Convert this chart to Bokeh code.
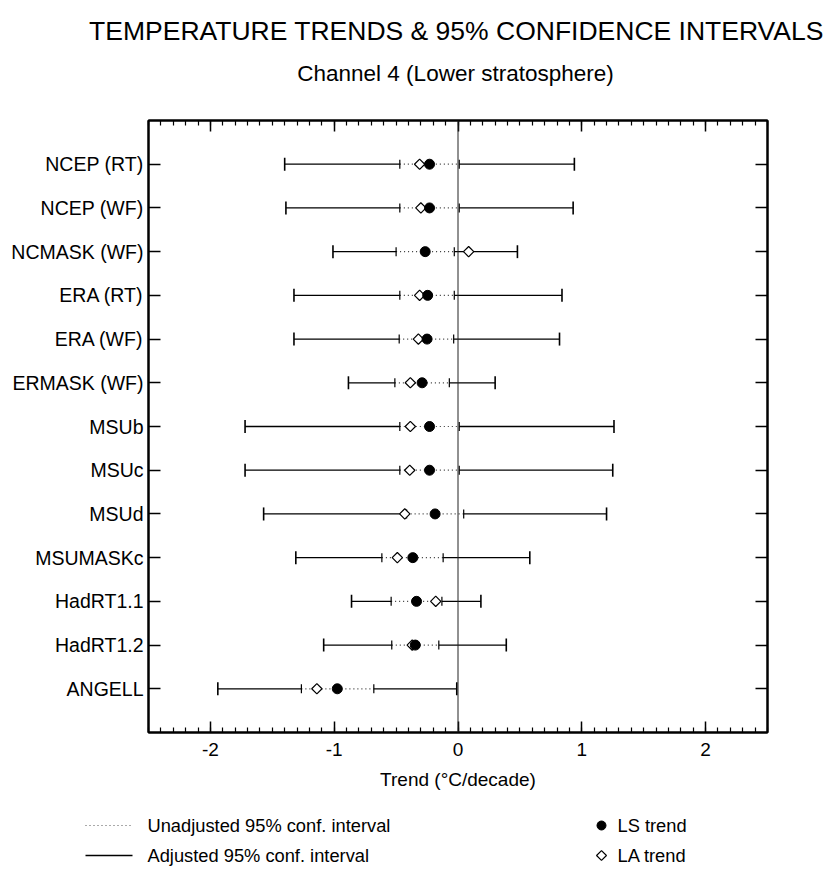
import numpy as np
from bokeh.plotting import figure
from bokeh.models import Range1d, FixedTicker, LinearAxis, Span
from bokeh.layouts import column
from bokeh.core.properties import value
from bokeh.embed import file_html
from bokeh.resources import INLINE

# ---------------- data ----------------
names = ["NCEP (RT)", "NCEP (WF)", "NCMASK (WF)", "ERA (RT)", "ERA (WF)", "ERMASK (WF)",
         "MSUb", "MSUc", "MSUd", "MSUMASKc", "HadRT1.1", "HadRT1.2", "ANGELL"]
ls_trend = [-0.23, -0.23, -0.265, -0.245, -0.25, -0.29, -0.23, -0.23, -0.185, -0.365, -0.335, -0.345, -0.975]
la_trend = [-0.31, -0.30, 0.086, -0.31, -0.32, -0.385, -0.385, -0.39, -0.43, -0.49, -0.18, -0.37, -1.14]
unadj_lo = [-0.47, -0.47, -0.50, -0.47, -0.475, -0.51, -0.47, -0.47, -0.415, -0.615, -0.54, -0.535, -1.265]
unadj_hi = [0.01, 0.01, -0.03, -0.03, -0.035, -0.07, 0.01, 0.01, 0.046, -0.12, -0.13, -0.155, -0.68]
adj_lo = [-1.40, -1.39, -1.01, -1.325, -1.325, -0.885, -1.72, -1.72, -1.57, -1.31, -0.86, -1.085, -1.94]
adj_hi = [0.94, 0.93, 0.48, 0.84, 0.82, 0.30, 1.26, 1.25, 1.20, 0.58, 0.185, 0.39, -0.01]
x_ticks = [-2, -1, 0, 1, 2]
x_tick_labels = ["-2", "-1", "0", "1", "2"]

title_text = "TEMPERATURE TRENDS & 95% CONFIDENCE INTERVALS"
subtitle_text = "Channel 4 (Lower stratosphere)"
x_label = "Trend (\u00b0C/decade)"
legend_labels = ["Unadjusted 95% conf. interval", "Adjusted 95% conf. interval", "LS trend", "LA trend"]

FONT = "Liberation Sans"
n = len(names)
ypos = [n - 1 - i for i in range(n)]

W = 823

def blank_fig(h, w=W):
    f = figure(width=w, height=h, x_range=Range1d(0, w), y_range=Range1d(h, 0),
               toolbar_location=None, output_backend="svg", min_border=0,
               x_axis_type=None, y_axis_type=None, outline_line_color=None,
               frame_align=False)
    f.grid.visible = False
    return f

# ---------------- title figure ----------------
TH = 110
tf = blank_fig(TH, 829)
tf.text(x=[456], y=[30], text=[title_text], text_font=value(FONT), text_font_size="26.5px",
        text_align="center", text_baseline="alphabetic", text_color="black")
tf.text(x=[455], y=[73], text=[subtitle_text], text_font=value(FONT), text_font_size="22.5px",
        text_align="center", text_baseline="alphabetic", text_color="black")

# ---------------- main figure ----------------
MH = 682
p = figure(width=W, height=MH, x_range=Range1d(-2.5, 2.5), y_range=Range1d(-1, n),
           toolbar_location=None, output_backend="svg",
           min_border_left=148, min_border_right=56, min_border_top=10, min_border_bottom=60,
           x_axis_location=None, y_axis_location=None,
           outline_line_color="black", outline_line_width=2)
p.grid.visible = False

minor = [round(-2.5 + 0.1 * k, 2) for k in range(51)]
xticker = FixedTicker(ticks=x_ticks, minor_ticks=minor)
yticker = FixedTicker(ticks=ypos, minor_ticks=[])

def style_axis(ax, labels=True, minor_on=False, tick_in=12, size="19px"):
    ax.axis_line_color = "black"
    ax.axis_line_width = 2
    ax.major_tick_in = tick_in
    ax.major_tick_out = 0
    ax.major_tick_line_width = 1.5
    ax.major_tick_line_color = "black"
    if minor_on:
        ax.minor_tick_in = 5
        ax.minor_tick_out = 0
        ax.minor_tick_line_width = 1.2
        ax.minor_tick_line_color = "black"
    else:
        ax.minor_tick_line_color = None
    if labels:
        ax.major_label_text_font = FONT
        ax.major_label_text_font_size = size
        ax.major_label_text_color = "black"
    else:
        ax.major_label_text_font_size = "1px"
        ax.major_label_text_color = None
        ax.major_label_standoff = 0

bottom = LinearAxis(ticker=xticker, axis_label=x_label)
style_axis(bottom, labels=True, minor_on=True, tick_in=11, size="19px")
bottom.major_label_overrides = {t: s for t, s in zip(x_ticks, x_tick_labels)}
bottom.major_label_standoff = 10
bottom.axis_label_text_font = FONT
bottom.axis_label_text_font_size = "19px"
bottom.axis_label_text_font_style = "normal"
bottom.axis_label_text_color = "black"
bottom.axis_label_standoff = 10
p.add_layout(bottom, "below")

top = LinearAxis(ticker=xticker)
style_axis(top, labels=False, minor_on=True, tick_in=11)
p.add_layout(top, "above")

left = LinearAxis(ticker=yticker)
style_axis(left, labels=True, tick_in=12, size="19.5px")
left.major_label_overrides = {y: s for y, s in zip(ypos, names)}
left.major_label_standoff = 5
p.add_layout(left, "left")

right = LinearAxis(ticker=yticker)
style_axis(right, labels=False, tick_in=12)
p.add_layout(right, "right")

p.add_layout(Span(location=0, dimension="height", line_color="#222222", line_width=1))

# adjusted (solid) parts
p.segment(x0=adj_lo, x1=unadj_lo, y0=ypos, y1=ypos, line_color="black", line_width=1.3)
p.segment(x0=unadj_hi, x1=adj_hi, y0=ypos, y1=ypos, line_color="black", line_width=1.3)
# unadjusted (dotted) part
p.segment(x0=unadj_lo, x1=unadj_hi, y0=ypos, y1=ypos, line_color="#333333",
          line_width=1.2, line_dash="1 3")
# caps
p.scatter(x=adj_lo + adj_hi, y=ypos + ypos, marker="dash", angle=np.pi / 2, size=13,
          line_color="black", line_width=1.6)
p.scatter(x=unadj_lo + unadj_hi, y=ypos + ypos, marker="dash", angle=np.pi / 2, size=9,
          line_color="black", line_width=1.2)
# trends
p.scatter(x=la_trend, y=ypos, marker="square", angle=np.pi / 4, size=7.3, fill_color="white",
          line_color="black", line_width=1.2)
p.scatter(x=ls_trend, y=ypos, marker="circle", size=10, fill_color="black", line_color="black")

# ---------------- legend figure ----------------
LH = 867 - TH - MH
lf = blank_fig(LH)
off = TH + MH
r1, r2 = 825 - off, 855 - off
lf.segment(x0=[85], x1=[132], y0=[r1], y1=[r1], line_color="#555555", line_width=1.2, line_dash="1 3")
lf.segment(x0=[85], x1=[132], y0=[r2], y1=[r2], line_color="black", line_width=1.3)
lf.text(x=[147, 147], y=[r1, r2], text=legend_labels[:2], text_font=value(FONT),
        text_font_size="18.3px", text_baseline="middle", text_color="black")
lf.scatter(x=[601], y=[r1], marker="circle", size=9, fill_color="black", line_color="black")
lf.scatter(x=[601], y=[r2], marker="square", angle=np.pi / 4, size=7, fill_color="white",
           line_color="black", line_width=1.2)
lf.text(x=[617, 617], y=[r1, r2], text=legend_labels[2:], text_font=value(FONT),
        text_font_size="18.3px", text_baseline="middle", text_color="black")

layout = column(tf, p, lf)
open("out.html", "w").write(file_html(layout, INLINE))
